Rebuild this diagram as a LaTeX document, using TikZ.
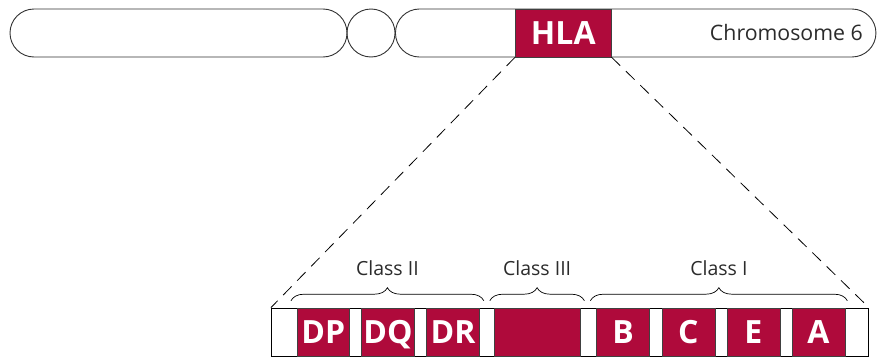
\documentclass[tikz,border=0pt]{standalone}
\usepackage{fontspec}
\setmainfont{Open Sans}
\usepackage{xcolor}
\definecolor{cHla}{HTML}{AF0A3B}
\definecolor{cLine}{HTML}{333333}
\definecolor{cText}{HTML}{2B2B2B}
\usepackage{tikz}
\usetikzlibrary{positioning,decorations.pathreplacing,calc}
\tikzset{
  chrom-arm/.style={draw=cLine,line width=0.9pt,rounded corners=24pt,
    minimum height=48pt,inner sep=0pt},
  chrom-cen/.style={draw=cLine,line width=0.9pt,circle,minimum size=48pt,
    inner sep=0pt},
  gene-box/.style={draw=black!75,line width=0.6pt,fill=cHla,minimum height=48pt,
    minimum width=53pt,inner sep=0pt,text=white,text height=23pt,text depth=0pt,
    font=\fontsize{32}{32}\selectfont\bfseries},
  region-bar/.style={draw=black,line width=0.9pt,minimum height=48pt,inner sep=0pt},
  zoom-line/.style={draw=black,line width=0.8pt,dash pattern=on 12pt off 8pt},
  class-brace/.style={decorate,decoration={brace,amplitude=13pt},draw=black,
    line width=0.7pt},
  class-label/.style={font=\fontsize{19.5}{19.5}\selectfont,text=cText,
    inner sep=0pt,above=25pt},
}
\begin{document}
\begin{tikzpicture}[x=1pt,y=-1pt,node distance=11.5pt]
  \useasboundingbox (0,0) rectangle (877,359);
  % chromosome 6
  \node[chrom-arm,minimum width=337pt] (parm) at (178.5,33) {};
  \node[chrom-cen] (cen) at (371,33) {};
  \node[chrom-arm,minimum width=480.5pt,anchor=west] (qarm) at (395,33) {};
  \node[gene-box,minimum width=96pt,anchor=west] (hla) at (515,33) {HLA};
  \node[anchor=base east,font=\fontsize{21.3}{21.3}\selectfont,text=cText,
    inner sep=0pt] (chr) at (863,40) {Chromosome 6};
  % HLA region
  \node[region-bar,minimum width=597pt,anchor=west] (bar) at (271,332) {};
  \node[gene-box,minimum width=52pt,anchor=west] (dp) at (297,332) {DP};
  \node[gene-box,right=of dp] (dq) {DQ};
  \node[gene-box,right=of dq] (dr) {DR};
  \node[gene-box,minimum width=86pt,right=14pt of dr] (c3) {};
  \node[gene-box,right=16pt of c3] (b) {B};
  \node[gene-box,right=of b] (c) {C};
  \node[gene-box,right=of c] (e) {E};
  \node[gene-box,right=of e] (a) {A};
  \draw[zoom-line] (hla.south west) -- (bar.north west);
  \draw[zoom-line] (hla.south east) -- (bar.north east);
  % classes
  \draw[class-brace] ([xshift=-6pt,yshift=7pt]dp.north west)
    -- node[class-label]{Class II} ([xshift=4pt,yshift=7pt]dr.north east);
  \draw[class-brace] ([xshift=-4pt,yshift=7pt]c3.north west)
    -- node[class-label]{Class III} ([xshift=4pt,yshift=7pt]c3.north east);
  \draw[class-brace] ([xshift=-6pt,yshift=7pt]b.north west)
    -- node[class-label]{Class I} ([xshift=2pt,yshift=7pt]a.north east);
\end{tikzpicture}
\end{document}
